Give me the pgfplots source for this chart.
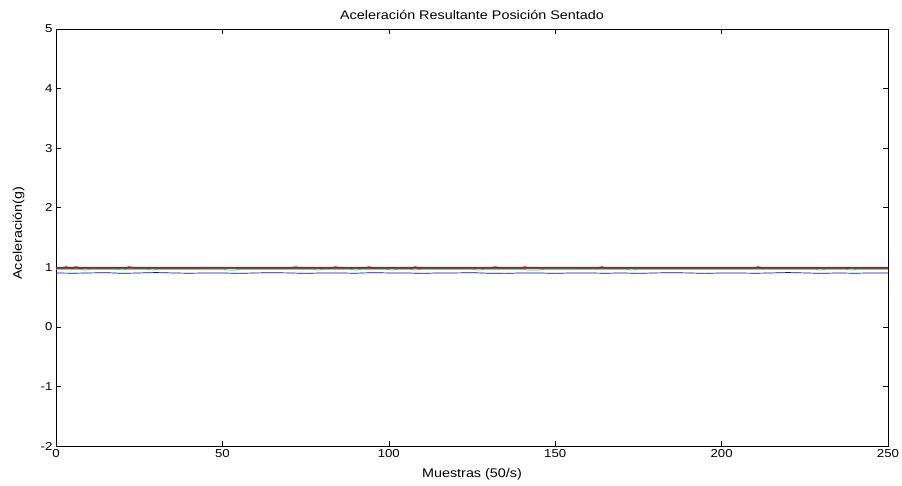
\documentclass[border=0pt]{standalone}
\usepackage{pgfplots}
\pgfplotsset{compat=1.18}
\usepackage{fontspec}
\setmainfont{Liberation Sans}[FakeStretch=1.15]
\definecolor{mblue}{rgb}{0,0,1}
\definecolor{mgreen}{rgb}{0,0.5,0}
\definecolor{mred}{rgb}{0.85,0,0}
\definecolor{mcyan}{rgb}{0,0.75,0.75}
\definecolor{mmag}{rgb}{0.75,0,0.75}
\definecolor{myel}{rgb}{0.75,0.75,0}
\begin{document}
\begin{tikzpicture}[x=1pt,y=1pt]
\useasboundingbox (0,0) rectangle (902,485);
\begin{axis}[
  at={(56pt,39pt)}, anchor=south west,
  scale only axis, width=832pt, height=417pt,
  xmin=0, xmax=250, ymin=-2, ymax=5,
  xtick={0,50,...,250}, ytick={-2,-1,0,1,2,3,4,5},
  tick align=inside, major tick length=5pt,
  xtick pos=both, ytick pos=both,
  axis line style={line width=0.8pt},
  tick style={black, line width=0.5pt},
  /pgf/number format/assume math mode=true,
  ticklabel style={font=\fontsize{11.5}{13}\selectfont},
  title={Aceleración Resultante Posición Sentado},
  title style={font=\fontsize{12.5}{14}\selectfont, at={(axis description cs:0.5,1.019)}, anchor=center},
  xlabel={Muestras (50/s)},
  ylabel={Aceleración(g)},
  label style={font=\fontsize{12.5}{14}\selectfont},
  xlabel style={at={(axis description cs:0.5,-0.067)}, anchor=center},
  ylabel style={at={(axis description cs:-0.045,0.51)}, anchor=center},
]
\addplot[mblue, line width=0.7pt] coordinates {
(0,0.905)(5,0.900)(10,0.905)(15,0.910)(20,0.898)(25,0.905)(30,0.912)(35,0.905)(40,0.900)(45,0.905)
(50,0.905)(55,0.898)(60,0.905)(65,0.910)(70,0.905)(75,0.898)(80,0.905)(85,0.905)(90,0.900)(95,0.910)
(100,0.905)(105,0.905)(110,0.898)(115,0.905)(120,0.905)(125,0.910)(130,0.900)(135,0.898)(140,0.905)(145,0.905)
(150,0.898)(155,0.905)(160,0.905)(165,0.900)(170,0.905)(175,0.898)(180,0.905)(185,0.910)(190,0.905)(195,0.898)
(200,0.905)(205,0.905)(210,0.900)(215,0.905)(220,0.912)(225,0.905)(230,0.898)(235,0.905)(240,0.900)(245,0.905)(250,0.905)
};
\addplot[mcyan, line width=0.7pt] coordinates {
(0,0.968)(7,0.968)(8.7,0.955)(10.5,0.968)(18,0.968)(19.8,0.955)(21.5,0.968)(27,0.968)(29,0.955)(31,0.968)
(50,0.968)(51.7,0.955)(53.8,0.955)(55.5,0.968)(77,0.968)(78.8,0.955)(80.5,0.968)(88,0.968)(90,0.955)(92,0.968)
(99,0.968)(101,0.955)(103,0.968)(106,0.968)(108,0.955)(110,0.968)(125,0.968)(127,0.955)(129,0.968)
(140,0.968)(141.6,0.955)(145,0.955)(147,0.968)(171,0.968)(173,0.955)(175,0.968)(228,0.968)(229.6,0.955)(231.5,0.968)
(237,0.968)(239,0.955)(241,0.968)(250,0.968)
};
\addplot[myel, line width=0.7pt] coordinates {
(0,0.982)(40,0.984)(80,0.982)(120,0.985)(160,0.983)(200,0.982)(250,0.984)
};
\addplot[mmag, line width=0.7pt] coordinates {
(0,0.988)(50,0.990)(100,0.987)(150,0.990)(200,0.988)(250,0.989)
};
\addplot[mgreen, line width=0.8pt] coordinates {
(0,0.984)(30,0.986)(60,0.983)(90,0.986)(120,0.984)(150,0.985)(180,0.983)(210,0.986)(250,0.984)
};
\addplot[mred, line width=1.4pt] coordinates {
(0,0.992)(2,0.992)(3,1.005)(4,0.992)(5,0.992)(6,1.005)(7,0.992)(21,0.992)(22,1.005)(23.5,0.992)
(71,0.992)(72,1.005)(73,0.992)(83,0.992)(84,1.005)(85,0.992)(93,0.992)(94,1.005)(95,0.992)
(107,0.992)(108,1.005)(109,0.992)(131,0.992)(132,1.005)(133,0.992)(140,0.992)(141,1.005)(142,0.992)
(163,0.992)(164,1.005)(165,0.992)(210,0.992)(211,1.005)(212,0.992)(250,0.992)
};
\end{axis}
\end{tikzpicture}
\end{document}
